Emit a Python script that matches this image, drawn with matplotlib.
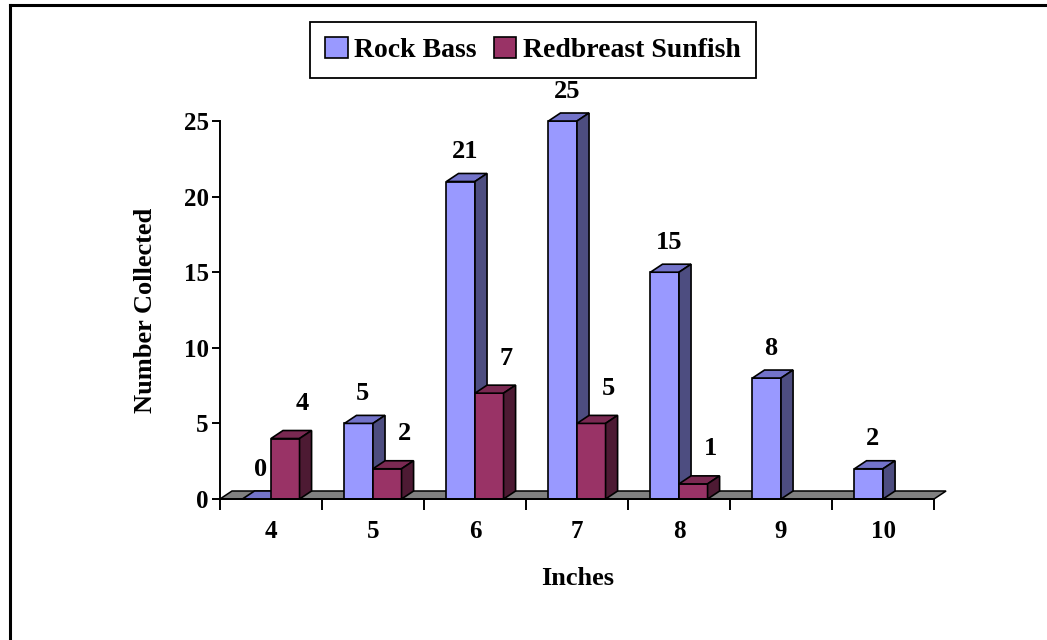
import numpy as np
import matplotlib

matplotlib.use("Agg")
import matplotlib.pyplot as plt
from matplotlib.patches import Polygon
from matplotlib.lines import Line2D

plt.rcParams["font.family"] = ["Liberation Serif", "DejaVu Serif"]
plt.rcParams["font.weight"] = "bold"

# data -----------------------------------------------------------------------
inches = ["4", "5", "6", "7", "8", "9", "10"]
rock_bass = [0, 5, 21, 25, 15, 8, 2]
redbreast = [4, 2, 7, 5, 1, None, None]

# styles ---------------------------------------------------------------------
rb_front, rb_top, rb_side = "#9999FF", "#7373C9", "#4D4D80"
rs_front, rs_top, rs_side = "#993366", "#7A2952", "#4D1A33"
floor_c = "#808080"
W = 0.28        # bar width (category units)
DX = 0.118      # 3D depth offset, x (category units)
DY = 0.53       # 3D depth offset, y (value units)

fig = plt.figure(figsize=(10.47, 6.40), dpi=100)
ax = fig.add_axes([0.2101, 0.2203, 0.682, 0.5906])
ax.set_xlim(-0.5, 6.5)
ax.set_ylim(0, 25)

# outer chart-area border (only top/left visible in the original)
fig.add_artist(Line2D([10 / 1047, 10 / 1047], [0, 1 - 5 / 640], color="black",
                      lw=2.2, transform=fig.transFigure))
fig.add_artist(Line2D([10 / 1047, 1], [1 - 5 / 640, 1 - 5 / 640], color="black",
                      lw=2.2, transform=fig.transFigure))

# floor
ax.add_patch(Polygon([(-0.5, 0), (6.5, 0), (6.5 + DX, DY), (-0.5 + DX, DY)],
                     closed=True, facecolor=floor_c, edgecolor="black", lw=1.1,
                     zorder=1, clip_on=False))


def bar3d(x0, v, front, top, side):
    x1 = x0 + W
    ax.bar(x0, v, width=W, align="edge", color=front, edgecolor="black",
           lw=1.2, zorder=3, clip_on=False)
    ax.add_patch(Polygon([(x0, v), (x1, v), (x1 + DX, v + DY), (x0 + DX, v + DY)],
                         closed=True, facecolor=top, edgecolor="black", lw=1.2,
                         zorder=3, clip_on=False))
    if v > 0:
        ax.add_patch(Polygon([(x1, 0), (x1 + DX, DY), (x1 + DX, v + DY), (x1, v)],
                             closed=True, facecolor=side, edgecolor="black",
                             lw=1.2, zorder=3, clip_on=False))


x = np.arange(len(inches))
for i in x:
    bar3d(i - W, rock_bass[i], rb_front, rb_top, rb_side)
    ax.annotate(str(rock_bass[i]), (i - W / 2, rock_bass[i]),
                xytext=(4, 30), textcoords="offset pixels", ha="center",
                va="center", fontsize=19, fontweight="bold", zorder=5)
    if redbreast[i] is not None:
        bar3d(i, redbreast[i], rs_front, rs_top, rs_side)
        ax.annotate(str(redbreast[i]), (i + W / 2, redbreast[i]),
                    xytext=(17, 35), textcoords="offset pixels", ha="center",
                    va="center", fontsize=19, fontweight="bold", zorder=5)

# axes -----------------------------------------------------------------------
for s in ("top", "right"):
    ax.spines[s].set_visible(False)
for s in ("left", "bottom"):
    ax.spines[s].set_linewidth(1.4)
    ax.spines[s].set_zorder(4)

ax.set_yticks(range(0, 26, 5))
ax.set_xticks(x)
ax.set_xticklabels(inches)
ax.set_xticks(np.arange(-0.5, 7, 1), minor=True)
ax.tick_params(axis="x", which="major", length=0, pad=15, labelsize=18)
ax.tick_params(axis="x", which="minor", length=8, width=1.4, direction="out")
ax.tick_params(axis="y", length=6, width=1.4, direction="out", pad=2,
               labelsize=18)
for lab in ax.get_xticklabels() + ax.get_yticklabels():
    lab.set_fontweight("bold")

ax.set_xlabel("Inches", fontsize=19, fontweight="bold")
ax.xaxis.set_label_coords(0.501, -0.18)
ax.set_ylabel("Number Collected", fontsize=19, fontweight="bold")
ax.yaxis.set_label_coords(-0.088, 0.5)

# legend ---------------------------------------------------------------------
handles = [plt.Rectangle((0, 0), 1, 1, facecolor=rb_front, edgecolor="black", lw=1.2),
           plt.Rectangle((0, 0), 1, 1, facecolor=rs_front, edgecolor="black", lw=1.2)]
leg = fig.legend(handles, ["Rock Bass", "Redbreast Sunfish"], loc="center",
                 bbox_to_anchor=(0.509, 0.922), ncol=2, fancybox=False,
                 prop={"size": 20, "weight": "bold"}, handlelength=0.8,
                 handleheight=0.8, handletextpad=0.25, columnspacing=0.6,
                 borderpad=0.55, framealpha=1)
leg.get_frame().set_edgecolor("black")
leg.get_frame().set_linewidth(1.3)

fig.savefig("out.png", dpi=100, facecolor="white")
